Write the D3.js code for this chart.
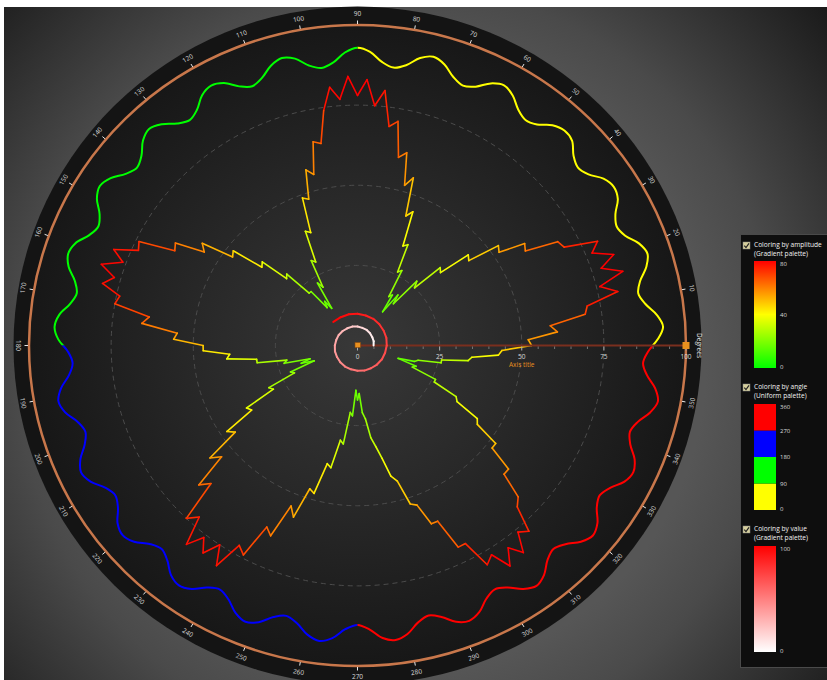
<!DOCTYPE html>
<html><head><meta charset="utf-8">
<script src="https://cdn.jsdelivr.net/npm/d3@7/dist/d3.min.js"></script>
<style>body{margin:0;background:#fff}svg{display:block}</style>
</head><body>
<svg id="c" width="827" height="680"></svg>
<script>
// ---------- DATA ----------
// Star (colored by amplitude), one value every 2 degrees starting at 0
const starValues = [53,52,61,59,70,71,81,76,84,78,83,77,80,70,69,59,60,52,53,43,44,34,35,25,27,17,20,13,
19,18,27,26,35,34,45,43,55,52,62,60,71,69,80,75,83,78,84,77,81,74,64,65,55,57,48,49,38,39,29,30,21,23,14,17,
15,22,22,31,30,39,38,48,47,57,55,64,63,74,73,80,76,82,77,80,74,75,64,66,55,56,47,47,39,40,31,31,22,23,15,18,
14,22,21,30,29,39,38,48,46,57,54,65,62,75,72,81,76,80,75,81,72,74,63,65,54,57,47,48,38,39,30,31,21,22,14,17,
15,21,23,29,32,36,42,44,52,53,60,60,70,70,79,77,83,78,82,76,78,70,68,60,60,52,52,44,43,35,34,26,26,18,19,13,
18,19,26,26,34,35,43,44];
const starStepDeg = 2;

// Outer wave (colored by angle), one value every 2.4 degrees starting at 3.6
const waveValues = [
93.2,91.6,88.6,87.0,88.4,91.3, 92.8,91.4,88.4,87.2,88.6,91.5, 92.4,91.2,88.3,87.1,88.5,91.4,
92.0,90.8,88.0,87.0,88.4,91.2, 92.6,91.3,88.4,87.2,88.7,91.6, 93.0,91.7,88.7,87.4,88.8,91.7,
92.9,91.5,88.6,87.3,88.6,91.5, 92.6,91.2,88.4,87.0,88.5,91.4, 92.5,91.3,88.3,86.9,88.4,91.2,
92.7,91.4,88.5,87.1,88.6,91.5, 92.9,91.6,88.6,87.2,88.7,91.6, 92.6,91.3,88.4,87.0,88.5,91.3,
92.4,91.1,88.2,86.9,88.3,91.2, 92.7,91.4,88.5,87.1,88.6,91.5, 93.0,91.7,88.7,87.3,88.8,91.7,
92.8,91.5,88.5,87.1,88.6,91.4, 92.5,91.2,88.3,86.9,88.4,91.3, 92.7,91.4,88.5,87.1,88.6,91.5,
92.9,91.6,88.6,87.2,88.7,91.6, 92.6,91.3,88.4,87.0,88.5,91.3, 92.4,91.1,88.2,86.8,88.3,91.2,
92.7,91.4,88.5,87.1,88.6,91.5, 93.0,91.7,88.7,87.3,88.8,91.7, 92.8,91.5,88.6,87.2,88.6,91.5,
93.1,91.6,88.6,87.1,88.5,91.4];
const waveStartDeg = 3.6, waveStepDeg = 2.4;

// Inner spiral (colored by value)
const spiralAngles = [0,15,30,45,60,75,90,105,120,135,150,165,180,195,210,225,240,255,270,285,300,315,330,345,360,375,390,405,420,435,450,465,480,495];
const spiralRadii  = [4.9,5.1,5.2,5.4,5.6,5.7,5.9,6.1,6.2,6.4,6.6,6.7,6.9,7.1,7.2,7.4,7.6,7.7,7.9,8.1,8.2,8.4,8.6,8.7,8.9,9.1,9.2,9.4,9.6,9.7,9.9,10.1,10.2,10.4];
const spiralValues = [0,3,6,9,12,15,18,21,24,27,30,33,36,39,42,45,48,52,55,58,61,64,67,70,73,76,79,82,85,88,91,94,97,100];

const radialTicks = [0,25,50,75,100];
const radialMinorTicks = [5,10,15,20,30,35,40,45,55,60,65,70,80,85,90,95];
const gridRings = [25,50,75];
const angleTickValues = [10,20,30,40,50,60,70,80,90,100,110,120,130,140,150,160,170,180,190,200,210,220,230,240,250,260,270,280,290,300,310,320,330,340,350];
const angleTickLabels = angleTickValues.map(String);

const ampStops = [0,40,80];
const ampColors = ["#00ff00","#ffff00","#ff0000"];
const angleBands = [0,90,180,270,360];
const angleBandColors = ["#ffff00","#00ff00","#0000ff","#ff0000"];
const valueStops = [0,100];
const valueColors = ["#ffffff","#ff0000"];

// ---------- LAYOUT ----------
const cx = 357.5, cy = 345.5;
const rX = d3.scaleLinear().domain([0,100]).range([0,328.5]);
const rY = d3.scaleLinear().domain([0,100]).range([0,320.5]);
const rad = d => d*Math.PI/180;
const px = (a,r) => cx + rX(r)*Math.cos(rad(a));
const py = (a,r) => cy - rY(r)*Math.sin(rad(a));
const ampColor = d3.scaleLinear().domain(ampStops).range(ampColors).clamp(true);
const valColor = d3.scaleLinear().domain(valueStops).range(valueColors).clamp(true);
const FONT = "'Open Sans', 'DejaVu Sans', sans-serif";

const svg = d3.select("#c");
const defs = svg.append("defs");

const bg = defs.append("radialGradient").attr("id","bg").attr("gradientUnits","userSpaceOnUse")
  .attr("cx",cx+40).attr("cy",cy+20).attr("r",560);
bg.append("stop").attr("offset",0.55).attr("stop-color","#565656");
bg.append("stop").attr("offset",0.68).attr("stop-color","#4a4a4a");
bg.append("stop").attr("offset",1).attr("stop-color","#1a1a1a");

const inner = defs.append("radialGradient").attr("id","inner");
inner.append("stop").attr("offset",0).attr("stop-color","#383838");
inner.append("stop").attr("offset",0.5).attr("stop-color","#282828");
inner.append("stop").attr("offset",1).attr("stop-color","#171717");

svg.append("rect").attr("width",827).attr("height",680).attr("fill","#fff");
svg.append("rect").attr("x",4).attr("y",7).attr("width",823).attr("height",673).attr("fill","url(#bg)");

// disk
svg.append("ellipse").attr("cx",cx).attr("cy",cy).attr("rx",344).attr("ry",339).attr("fill","#141414");
svg.append("ellipse").attr("cx",cx).attr("cy",cy).attr("rx",rX(100)).attr("ry",rY(100)).attr("fill","url(#inner)");

// grid rings
svg.append("g").selectAll("ellipse").data(gridRings).join("ellipse")
  .attr("cx",cx).attr("cy",cy).attr("rx",d=>rX(d)).attr("ry",d=>rY(d))
  .attr("fill","none").attr("stroke","#4c4c4c").attr("stroke-width",1).attr("stroke-dasharray","5,4");

// outer ring
svg.append("ellipse").attr("cx",cx).attr("cy",cy).attr("rx",rX(100)).attr("ry",rY(100))
  .attr("fill","none").attr("stroke","#c8774b").attr("stroke-width",2.5);

// angle ticks + labels
const at = svg.append("g");
angleTickValues.forEach((a,i)=>{
  const x1 = cx + (rX(100)+1)*Math.cos(rad(a)), y1 = cy - (rY(100)+1)*Math.sin(rad(a));
  const x2 = cx + (rX(100)+4.5)*Math.cos(rad(a)), y2 = cy - (rY(100)+4.5)*Math.sin(rad(a));
  at.append("line").attr("x1",x1).attr("y1",y1).attr("x2",x2).attr("y2",y2).attr("stroke","#e8e8e8").attr("stroke-width",1);
  const lx = cx + (rX(100)+11)*Math.cos(rad(a)), ly = cy - (rY(100)+11)*Math.sin(rad(a));
  let rot = 90 - a; while (rot > 90) rot -= 180; while (rot <= -90) rot += 180;
  at.append("text").attr("transform",`translate(${lx},${ly}) rotate(${rot})`)
    .attr("text-anchor","middle").attr("dy","0.35em").attr("fill","#d8d8d8")
    .attr("font-family",FONT).attr("font-size",6.5).text(angleTickLabels[i]);
});
svg.append("text").attr("transform",`translate(${cx+rX(100)+13},${cy}) rotate(90)`)
  .attr("text-anchor","middle").attr("dy","0.35em").attr("fill","#e8e8e8")
  .attr("font-family",FONT).attr("font-size",6.5).text("Degrees");

// wave clipped by quadrant
const waveAngles = waveValues.map((v,i)=>waveStartDeg + i*waveStepDeg);
const wavePts = waveValues.map((v,i)=>[px(waveAngles[i],v), py(waveAngles[i],v)]);
const waveLine = d3.line().curve(d3.curveCatmullRomClosed.alpha(0.5));
angleBandColors.forEach((col,q)=>{
  const a0 = angleBands[q], a1 = angleBands[q+1];
  const poly = [[cx,cy]];
  for (let a=a0; a<=a1; a+=5) poly.push([px(a,130), py(a,130)]);
  defs.append("clipPath").attr("id","q"+q).append("path").attr("d","M"+poly.join("L")+"Z");
  svg.append("path").attr("d",waveLine(wavePts)).attr("clip-path",`url(#q${q})`)
    .attr("fill","none").attr("stroke",col).attr("stroke-width",2);
});

// star
const sg = svg.append("g");
const n = starValues.length;
starValues.forEach((r,i)=>{
  const j = (i+1)%n, a0 = i*starStepDeg, a1 = j*starStepDeg, r1 = starValues[j];
  sg.append("line").attr("x1",px(a0,r)).attr("y1",py(a0,r)).attr("x2",px(a1,r1)).attr("y2",py(a1,r1))
    .attr("stroke",ampColor((r+r1)/2)).attr("stroke-width",1.6).attr("stroke-linecap","round");
});

// radial axis
svg.append("line").attr("x1",cx).attr("y1",cy).attr("x2",cx+rX(100)).attr("y2",cy)
  .attr("stroke","#7a2f1e").attr("stroke-width",2);
const ra = svg.append("g");
radialMinorTicks.forEach(t=>{
  ra.append("line").attr("x1",cx+rX(t)).attr("x2",cx+rX(t)).attr("y1",cy+1).attr("y2",cy+3.5).attr("stroke","#777").attr("stroke-width",1);
});
radialTicks.forEach(t=>{
  ra.append("line").attr("x1",cx+rX(t)).attr("x2",cx+rX(t)).attr("y1",cy+1).attr("y2",cy+5).attr("stroke","#aaa").attr("stroke-width",1);
  ra.append("text").attr("x",cx+rX(t)).attr("y",cy+13).attr("text-anchor","middle")
    .attr("fill","#d8d8d8").attr("font-family",FONT).attr("font-size",6.5).text(t);
});
svg.append("text").attr("x",cx+rX(50)).attr("y",cy+21).attr("text-anchor","middle")
  .attr("fill","#e8901e").attr("font-family",FONT).attr("font-size",6.5).text("Axis title");

// spiral
const sp = svg.append("g");
for (let i=0;i<spiralAngles.length-1;i++){
  const a0=spiralAngles[i], a1=spiralAngles[i+1], r0=spiralRadii[i], r1=spiralRadii[i+1];
  sp.append("line").attr("x1",px(a0,r0)).attr("y1",py(a0,r0)).attr("x2",px(a1,r1)).attr("y2",py(a1,r1))
    .attr("stroke",valColor((spiralValues[i]+spiralValues[i+1])/2)).attr("stroke-width",2).attr("stroke-linecap","round");
}

// markers
svg.append("rect").attr("x",cx-2.5).attr("y",cy-3).attr("width",5.5).attr("height",5).attr("fill","#e8901e").attr("stroke","#8a4a10").attr("stroke-width",0.6);
svg.append("rect").attr("x",cx+rX(100)-3.5).attr("y",cy-3.5).attr("width",7).attr("height",7).attr("fill","#e8901e");

// ---------- LEGEND ----------
const lg = svg.append("g");
lg.append("rect").attr("x",740.5).attr("y",234.5).attr("width",100).attr("height",433).attr("fill","#0e0e0e").attr("stroke","#4a4a4a").attr("stroke-width",1);

function checkbox(x,y){
  lg.append("rect").attr("x",x).attr("y",y).attr("width",7).attr("height",7).attr("fill","#d6cf9c").attr("stroke","#888").attr("stroke-width",0.5);
  lg.append("path").attr("d",`M${x+1.3},${y+3.6}L${x+3},${y+5.6}L${x+6},${y+1.4}`).attr("fill","none").attr("stroke","#222").attr("stroke-width",1.2);
}
function title(y,l1,l2){
  lg.append("text").attr("x",754).attr("y",y).attr("fill","#f2f2f2").attr("font-family",FONT).attr("font-size",6.6).text(l1);
  lg.append("text").attr("x",754).attr("y",y+8.5).attr("fill","#f2f2f2").attr("font-family",FONT).attr("font-size",6.6).text(l2);
}
function barLabels(y0,y1,ticks,domain){
  const s = d3.scaleLinear().domain(domain).range([y1,y0]);
  ticks.forEach((t,i)=>lg.append("text").attr("x",780).attr("y",s(t))
    .attr("dy", i===ticks.length-1 ? "0.75em" : (i===0 ? "0.1em" : "0.35em"))
    .attr("fill","#ddd").attr("font-family",FONT).attr("font-size",6).text(t));
}
// amplitude
checkbox(743,242); title(247,"Coloring by amplitude","(Gradient palette)");
const g1 = defs.append("linearGradient").attr("id","lgAmp").attr("x1",0).attr("y1",1).attr("x2",0).attr("y2",0);
ampStops.forEach((s,i)=>g1.append("stop").attr("offset",s/80).attr("stop-color",ampColors[i]));
lg.append("rect").attr("x",754).attr("y",261).attr("width",22).attr("height",107).attr("fill","url(#lgAmp)");
barLabels(261,368,ampStops,[0,80]);
// angle
checkbox(743,384); title(389,"Coloring by angle","(Uniform palette)");
const angS = d3.scaleLinear().domain([0,360]).range([510,404]);
angleBandColors.forEach((c,i)=>lg.append("rect").attr("x",754).attr("y",angS(angleBands[i+1])).attr("width",22)
  .attr("height",angS(angleBands[i])-angS(angleBands[i+1])).attr("fill",c));
barLabels(404,510,angleBands,[0,360]);
// value
checkbox(743,526); title(531,"Coloring by value","(Gradient palette)");
const g3 = defs.append("linearGradient").attr("id","lgVal").attr("x1",0).attr("y1",1).attr("x2",0).attr("y2",0);
valueStops.forEach((s,i)=>g3.append("stop").attr("offset",s/100).attr("stop-color",valueColors[i]));
lg.append("rect").attr("x",754).attr("y",546).attr("width",22).attr("height",106).attr("fill","url(#lgVal)");
barLabels(546,652,valueStops,[0,100]);
</script>
</body></html>
